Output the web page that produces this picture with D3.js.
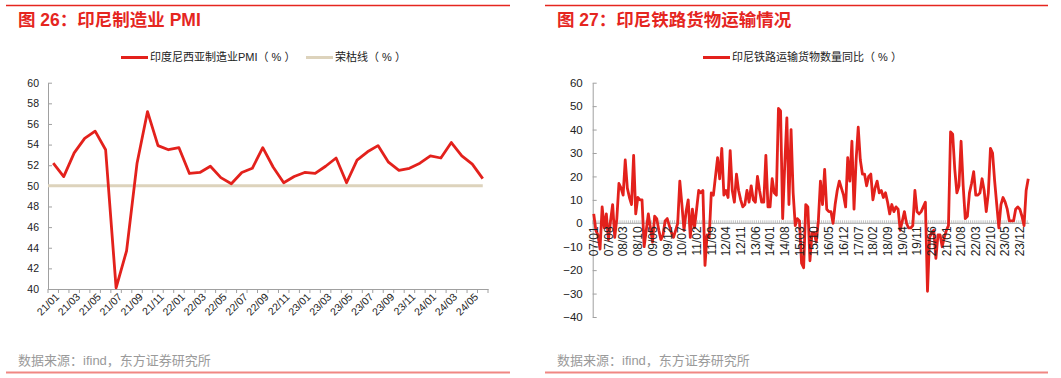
<!DOCTYPE html>
<html>
<head>
<meta charset="utf-8">
<title>印尼制造业 PMI / 铁路货物运输</title>
<style>
  body { margin: 0; background: #fff; }
  svg text { font-family: "Liberation Sans", "Noto Sans CJK SC", sans-serif; }
</style>
</head>
<body>
<svg width="1061" height="378"></svg>
<script src="https://cdn.jsdelivr.net/npm/d3@7"></script>
<script>
// 图26 印尼制造业PMI, 21/01 - 24/06
const pmiMonths = []
for (let y = 21; y <= 24; y++)
  for (let m = 1; m <= 12; m++)
    if (!(y == 24 && m > 6)) pmiMonths.push(y + "/" + String(m).padStart(2, "0"))

const pmiValues = [52.2, 50.9, 53.2, 54.6, 55.3, 53.5, 40.1, 43.7, 52.2, 57.2, 53.9, 53.5,
  53.7, 51.2, 51.3, 51.9, 50.8, 50.2, 51.3, 51.7, 53.7, 51.8, 50.3, 50.9,
  51.3, 51.2, 51.9, 52.7, 50.3, 52.5, 53.3, 53.9, 52.3, 51.5, 51.7, 52.2,
  52.9, 52.7, 54.2, 52.9, 52.1, 50.7]
const boomBust = 50
const pmiTicks = [40, 42, 44, 46, 48, 50, 52, 54, 56, 58, 60]

// 图27 印尼铁路货物运输数量同比, 07/01 - 24/04
const railMonths = []
for (let y = 7; y <= 24; y++)
  for (let m = 1; m <= 12; m++)
    if (!(y == 24 && m > 4)) railMonths.push(String(y).padStart(2, "0") + "/" + String(m).padStart(2, "0"))

const railValues = [
  4, -3, -5, -11, 7, -2, 4, -7, 1, 8,
  -6, 2, 17, 15, 12, 27, 15, 11, 8, 29,
  4, 11, 10, 10, -10, -3, 4, -2, -8, 3,
  2, -3, -7, -5, 1, 2, -1, -4, -6, -3,
  0, 18, 8, -3, 5, 10, -6, 6, -2, 6,
  14, 13, 14, -18, -5, -6, 13, 12, 20, 28,
  19, 32, 12, 14, 11, 31, 14, 9, 21, 14,
  10, 7, 8, 14, 9, 16, 10, 9, 20, 14,
  9, 9, 29, 7, 7, 19, 13, 12, 49, 48,
  2, 25, 45, 8, 40, 13, -1, 2, 1, -17,
  -19, 8, 7, -16, -4, -4, -8, 1, 18, 8,
  23, 6, 5, 5, 0, 8, 14, 18, 15, 12,
  7, 28, 18, 35, 6, 27, 41, 27, 21, 21,
  16, 20, 21, 10, 15, 18, 13, 14, 11, 13,
  9, 4, 8, 5, 7, 6, -3, 1, 5, 0,
  -2, -2, -1, 14, 5, 4, 5, 7, 9, -29,
  -6, -4, -3, -15, -5, -5, -10, -6, -3, -1,
  39, 38, 23, 13, 16, 35, 16, 2, 3, 13,
  17, 22, 12, 12, 13, 19, 14, 5, 13, 32,
  30, 18, 8, -2, 8, 11, 9, 6, 1, 1,
  1, 6, 7, 6, 3, -1, 14, 19]
const railTicks = [-40, -30, -20, -10, 0, 10, 20, 30, 40, 50, 60]

const red = "#e3211c"
const titleRed = "#e5261f"
const beige = "#ddd3bc"
const axisGrey = "#a0a0a0"

const svg = d3.select("svg")

// frame: top rules, titles, source lines
function frame(x0, x1, tx, title) {
  svg.append("line").attr("x1", x0).attr("x2", x1).attr("y1", 5.5).attr("y2", 5.5)
    .attr("stroke", titleRed).attr("stroke-width", 1.5)
  svg.append("text").attr("x", tx).attr("y", 25.5).attr("fill", titleRed)
    .attr("font-size", 17.5).attr("font-weight", "bold").text(title)
  svg.append("text").attr("x", tx).attr("y", 365).attr("fill", "#9a9a9a")
    .attr("font-size", 13).text("数据来源：ifind，东方证券研究所")
  svg.append("line").attr("x1", x0).attr("x2", x1).attr("y1", 372.5).attr("y2", 372.5)
    .attr("stroke", "#f08783").attr("stroke-width", 2)
}
frame(6, 510, 18, "图 26：印尼制造业 PMI")
frame(545, 1048, 557, "图 27：印尼铁路货物运输情况")

function legendItem(x, y, color, label) {
  svg.append("line").attr("x1", x).attr("x2", x + 27).attr("y1", y).attr("y2", y)
    .attr("stroke", color).attr("stroke-width", 3)
  svg.append("text").attr("x", x + 29).attr("y", y).attr("dy", "0.35em")
    .attr("font-size", 11).attr("fill", "#222").text(label)
}
legendItem(121, 57.5, red, "印度尼西亚制造业PMI（ % ）")
legendItem(306, 57.5, beige, "荣枯线（ % ）")
legendItem(703, 57.5, red, "印尼铁路运输货物数量同比（ % ）")

// ---- left chart
const x1 = d3.scaleBand().domain(pmiMonths).range([48, 488])
const y1 = d3.scaleLinear().domain([40, 60]).range([289, 82.7])

const yAx1 = svg.append("g").attr("transform", "translate(48,0)")
  .call(d3.axisLeft(y1).tickValues(pmiTicks).tickSizeInner(-4).tickSizeOuter(0).tickPadding(9))
yAx1.selectAll("path,line").attr("stroke", axisGrey)
yAx1.selectAll("text").attr("font-size", 10.5).attr("fill", "#222").style("font-family", "Liberation Sans")

const xAx1 = svg.append("g").attr("transform", "translate(0,289)")
  .call(d3.axisBottom(x1).tickSize(0).tickFormat(""))
xAx1.select("path").attr("stroke", axisGrey)
svg.append("g").selectAll("line")
  .data(pmiMonths.concat(["end"]))
  .join("line")
  .attr("x1", (d, i) => 48 + i * x1.step()).attr("x2", (d, i) => 48 + i * x1.step())
  .attr("y1", 289).attr("y2", 293).attr("stroke", axisGrey)
svg.append("g").selectAll("text")
  .data(pmiMonths.filter((d, i) => i % 2 == 0))
  .join("text")
  .attr("transform", d => `translate(${x1(d) + x1.bandwidth() / 2 + 4},295) rotate(-45)`)
  .attr("text-anchor", "end").attr("dy", "0.35em")
  .attr("font-size", 10.5).attr("fill", "#222").text(d => d)

const cx1 = d => x1(d) + x1.bandwidth() / 2
svg.append("line")
  .attr("x1", 48).attr("x2", cx1(pmiMonths[pmiMonths.length - 1]))
  .attr("y1", y1(boomBust)).attr("y2", y1(boomBust))
  .attr("stroke", beige).attr("stroke-width", 3)
svg.append("path")
  .datum(pmiValues)
  .attr("fill", "none").attr("stroke", red).attr("stroke-width", 2.8)
  .attr("stroke-linejoin", "round")
  .attr("d", d3.line().x((d, i) => cx1(pmiMonths[i])).y(d => y1(d)))

// ---- right chart
const x2 = d3.scaleBand().domain(railMonths).range([592.7, 592.7 + railMonths.length * 2.099])
const y2 = d3.scaleLinear().domain([-40, 60]).range([317, 82.7])
const cx2 = d => x2(d) + x2.bandwidth() / 2

const yAx2 = svg.append("g").attr("transform", "translate(592.7,0)")
  .call(d3.axisLeft(y2).tickValues(railTicks).tickSizeInner(-4).tickSizeOuter(0).tickPadding(10))
yAx2.selectAll("path,line").attr("stroke", axisGrey)
yAx2.selectAll("text").attr("font-size", 11.5).attr("fill", "#222")

svg.append("line").attr("x1", 592.7).attr("x2", x2.range()[1])
  .attr("y1", y2(0)).attr("y2", y2(0)).attr("stroke", axisGrey)
svg.append("g").selectAll("line")
  .data(railMonths)
  .join("line")
  .attr("x1", d => x2(d)).attr("x2", d => x2(d))
  .attr("y1", y2(0) - 3).attr("y2", y2(0)).attr("stroke", "#b4b4b4").attr("stroke-width", 0.8)

svg.append("path")
  .datum(railValues)
  .attr("fill", "none").attr("stroke", red).attr("stroke-width", 2.8)
  .attr("stroke-linejoin", "round")
  .attr("d", d3.line().x((d, i) => cx2(railMonths[i])).y(d => y2(d)))

svg.append("g").selectAll("text")
  .data(railMonths.filter((d, i) => i % 7 == 0))
  .join("text")
  .attr("transform", d => `translate(${cx2(d)},${y2(0) + 3}) rotate(-90)`)
  .attr("text-anchor", "end").attr("dy", "0.36em")
  .attr("font-size", 12).attr("fill", "#222").text(d => d)
</script>
</body>
</html>
